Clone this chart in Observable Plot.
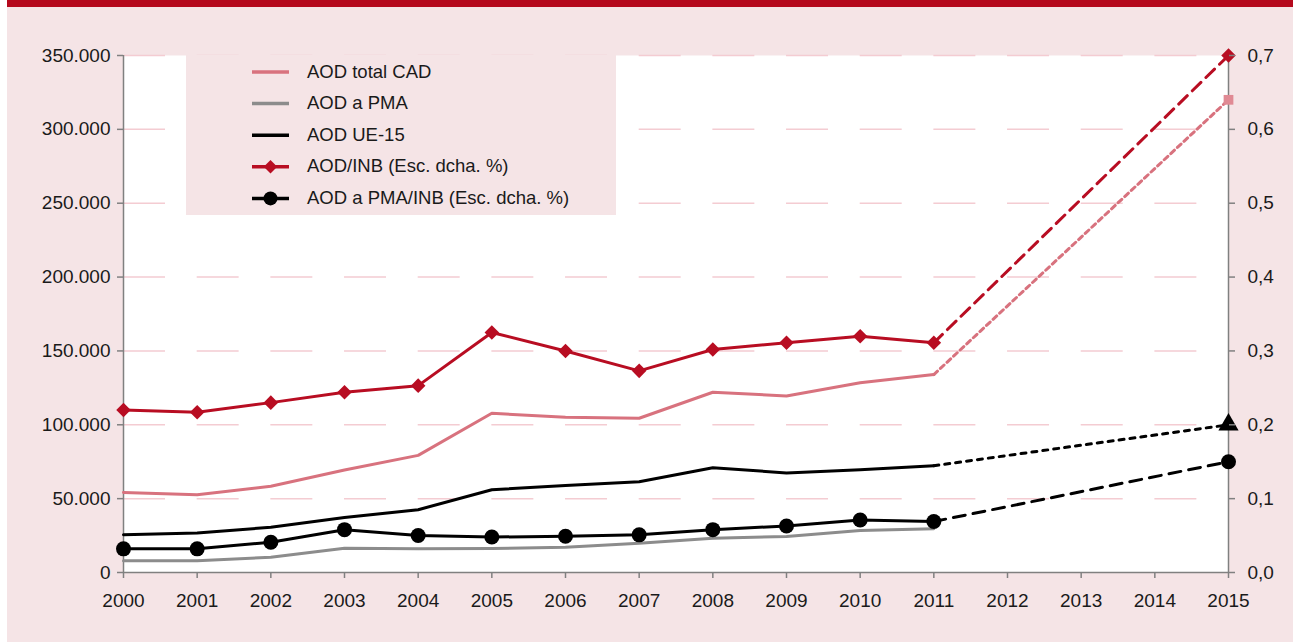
<!DOCTYPE html>
<html>
<head>
<meta charset="utf-8">
<script src="https://cdn.jsdelivr.net/npm/d3@7"></script>
<script src="https://cdn.jsdelivr.net/npm/@observablehq/plot@0.6"></script>
<style>
  html, body { margin: 0; padding: 0; background: #ffffff; }
  #wrap { position: relative; width: 1293px; height: 642px; background: #ffffff; overflow: hidden; }
  #bg { position: absolute; left: 7px; top: 0; right: 0; bottom: 0; background: #f5e4e6; }
  #bar { position: absolute; left: 7px; top: 0; right: 0; height: 7px; background: #b5081c; }
  #chart { position: absolute; left: 0; top: 0; }
  #legend { position: absolute; left: 186px; top: 55px; width: 430px; height: 160px; background: #f5e4e6; }
  #legend svg { display: block; }
</style>
</head>
<body>
<div id="wrap">
  <div id="bg"></div>
  <div id="bar"></div>
  <div id="chart"></div>
  <div id="legend"></div>
</div>
<script>
// ---- Data ----
const years = [2000, 2001, 2002, 2003, 2004, 2005, 2006, 2007, 2008, 2009, 2010, 2011];
const aodTotalCAD = [54200, 52600, 58400, 69400, 79300, 107800, 105100, 104400, 122000, 119500, 128400, 134000];
const aodPMA = [7900, 7900, 10400, 16400, 16000, 16200, 17100, 19800, 23200, 24400, 28400, 29700];
const aodUE15 = [25600, 26800, 30600, 37300, 42500, 56000, 58900, 61500, 70900, 67400, 69600, 72300];
const aodINB = [0.22, 0.217, 0.23, 0.244, 0.253, 0.325, 0.30, 0.273, 0.302, 0.311, 0.32, 0.311];
const aodPMAINB = [0.032, 0.032, 0.041, 0.058, 0.050, 0.048, 0.049, 0.051, 0.058, 0.063, 0.071, 0.069];

const projYears = [2011, 2015];
const projTotalCAD = [134000, 320000];
const projUE15 = [72300, 100000];
const projINB = [0.311, 0.7];
const projPMAINB = [0.069, 0.15];

const xTicks = [2000, 2001, 2002, 2003, 2004, 2005, 2006, 2007, 2008, 2009, 2010, 2011, 2012, 2013, 2014, 2015];
const yTicksLeft = [0, 50000, 100000, 150000, 200000, 250000, 300000, 350000];
const rightFactor = 500000; // 0,7 % on right axis ↔ 350.000 on left axis

const legendItems = [
  {label: "AOD total CAD", color: "#d8727e", marker: null},
  {label: "AOD a PMA", color: "#8c8c8c", marker: null},
  {label: "AOD UE-15", color: "#000000", marker: null},
  {label: "AOD/INB (Esc. dcha. %)", color: "#b80d22", marker: "diamond"},
  {label: "AOD a PMA/INB (Esc. dcha. %)", color: "#000000", marker: "circle"}
];

// ---- Build tables ----
const series = (xs, ys, f = 1) => xs.map((x, i) => ({x, y: ys[i] * f}));
const sTotal = series(years, aodTotalCAD);
const sPMA = series(years, aodPMA);
const sUE = series(years, aodUE15);
const sINB = series(years, aodINB, rightFactor);
const sPMAINB = series(years, aodPMAINB, rightFactor);
const pTotal = series(projYears, projTotalCAD);
const pUE = series(projYears, projUE15);
const pINB = series(projYears, projINB, rightFactor);
const pPMAINB = series(projYears, projPMAINB, rightFactor);

const loc = d3.formatLocale({decimal: ",", thousands: ".", grouping: [3], currency: ["", ""]});
const fmtL = loc.format(",.0f");
const fmtR = loc.format(".1f");

const FONT = "'Liberation Sans', Arial, sans-serif";
const axisGray = "#808080";
const textCol = "#1a1a1a";

const chart = Plot.plot({
  width: 1293,
  height: 642,
  marginLeft: 123,
  marginRight: 65,
  marginTop: 55,
  marginBottom: 70,
  style: {fontFamily: FONT, fontSize: "19px", background: "transparent", color: textCol, overflow: "visible"},
  x: {domain: [2000, 2015]},
  y: {domain: [0, 350000]},
  marks: [
    Plot.frame({fill: "#ffffff", stroke: null}),
    Plot.ruleY(yTicksLeft.filter(d => d > 0), {y: d => d, stroke: "#f4ccd2", strokeWidth: 1.5, strokeDasharray: "42,31.67"}),
    Plot.ruleX([2000, 2015], {x: d => d, stroke: axisGray, strokeWidth: 1.5}),
    Plot.ruleY([0], {y: d => d, stroke: axisGray, strokeWidth: 1.5}),
    // projections
    Plot.line(pTotal, {x: "x", y: "y", stroke: "#d8727e", strokeWidth: 3, strokeDasharray: "5,4"}),
    Plot.line(pINB, {x: "x", y: "y", stroke: "#b80d22", strokeWidth: 3, strokeDasharray: "12,7"}),
    Plot.line(pUE, {x: "x", y: "y", stroke: "#000000", strokeWidth: 3, strokeDasharray: "5,6"}),
    Plot.line(pPMAINB, {x: "x", y: "y", stroke: "#000000", strokeWidth: 3, strokeDasharray: "12,8"}),
    // historic
    Plot.line(sPMA, {x: "x", y: "y", stroke: "#8c8c8c", strokeWidth: 3}),
    Plot.line(sTotal, {x: "x", y: "y", stroke: "#d8727e", strokeWidth: 3}),
    Plot.line(sUE, {x: "x", y: "y", stroke: "#000000", strokeWidth: 3}),
    Plot.line(sPMAINB, {x: "x", y: "y", stroke: "#000000", strokeWidth: 3}),
    Plot.line(sINB, {x: "x", y: "y", stroke: "#b80d22", strokeWidth: 3}),
    Plot.dot(sPMAINB, {x: "x", y: "y", r: 7.5, fill: "#000000", stroke: null}),
    Plot.dot(sINB, {x: "x", y: "y", symbol: "square", rotate: 45, r: 5.8, fill: "#b80d22", stroke: null}),
    // 2015 targets
    Plot.dot(pTotal.slice(1), {x: "x", y: "y", symbol: "square", r: 5.5, fill: "#e08a94", stroke: null}),
    Plot.dot(pINB.slice(1), {x: "x", y: "y", symbol: "square", rotate: 45, r: 5.8, fill: "#b80d22", stroke: null}),
    Plot.dot(pUE.slice(1), {x: "x", y: "y", symbol: "triangle", r: 7.5, fill: "#000000", stroke: null}),
    Plot.dot(pPMAINB.slice(1), {x: "x", y: "y", r: 7.5, fill: "#000000", stroke: null}),
    // axes
    Plot.axisY({anchor: "left", ticks: yTicksLeft, tickFormat: fmtL, tickSize: 6, tickPadding: 7, stroke: axisGray, fill: textCol, strokeWidth: 1.5, label: null}),
    Plot.axisY({anchor: "right", ticks: yTicksLeft, tickFormat: d => fmtR(d / rightFactor), tickSize: 6, tickPadding: 13, stroke: axisGray, fill: textCol, strokeWidth: 1.5, label: null}),
    Plot.axisX({anchor: "bottom", ticks: xTicks, tickFormat: d => String(d), tickSize: 6, tickPadding: 15, stroke: axisGray, fill: textCol, strokeWidth: 1.5, label: null})
  ]
});
document.getElementById("chart").appendChild(chart);

// ---- Legend ----
const lg = d3.select("#legend").append("svg").attr("width", 430).attr("height", 160)
  .style("font-family", FONT).style("font-size", "18.5px");
const rowY = i => 17 + i * 31.6;
legendItems.forEach((it, i) => {
  const g = lg.append("g").attr("transform", `translate(0,${rowY(i)})`);
  g.append("line").attr("x1", 66).attr("x2", 103).attr("y1", 0).attr("y2", 0)
    .attr("stroke", it.color).attr("stroke-width", 3.5);
  if (it.marker === "diamond") {
    g.append("path").attr("d", d3.symbol(d3.symbolSquare, 90)()).attr("transform", "translate(84.5,0) rotate(45)").attr("fill", it.color);
  } else if (it.marker === "circle") {
    g.append("circle").attr("cx", 84.5).attr("cy", 0).attr("r", 7).attr("fill", it.color);
  }
  g.append("text").attr("x", 121).attr("y", 5.5).attr("fill", textCol).text(it.label);
});
</script>
</body>
</html>
